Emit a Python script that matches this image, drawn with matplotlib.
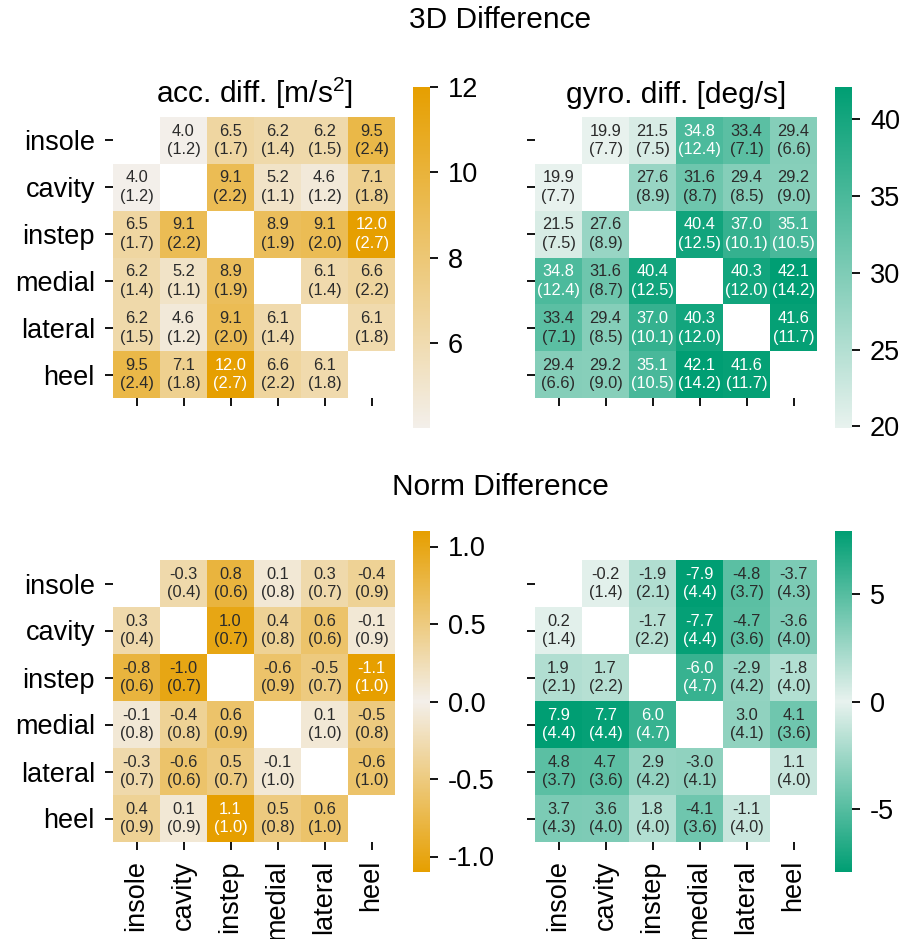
import numpy as np
import matplotlib
matplotlib.use('Agg')
import matplotlib.pyplot as plt
from matplotlib.colors import LinearSegmentedColormap

plt.rcParams['font.family'] = ['Liberation Sans', 'DejaVu Sans']
plt.rcParams['mathtext.default'] = 'regular'

locations = ['insole', 'cavity', 'instep', 'medial', 'lateral', 'heel']
n = np.nan

# 3D difference, mean and std per sensor pair
acc_3d_mean = [[n, 4.0, 6.5, 6.2, 6.2, 9.5],
               [4.0, n, 9.1, 5.2, 4.6, 7.1],
               [6.5, 9.1, n, 8.9, 9.1, 12.0],
               [6.2, 5.2, 8.9, n, 6.1, 6.6],
               [6.2, 4.6, 9.1, 6.1, n, 6.1],
               [9.5, 7.1, 12.0, 6.6, 6.1, n]]
acc_3d_std = [[n, 1.2, 1.7, 1.4, 1.5, 2.4],
              [1.2, n, 2.2, 1.1, 1.2, 1.8],
              [1.7, 2.2, n, 1.9, 2.0, 2.7],
              [1.4, 1.1, 1.9, n, 1.4, 2.2],
              [1.5, 1.2, 2.0, 1.4, n, 1.8],
              [2.4, 1.8, 2.7, 2.2, 1.8, n]]
gyro_3d_mean = [[n, 19.9, 21.5, 34.8, 33.4, 29.4],
                [19.9, n, 27.6, 31.6, 29.4, 29.2],
                [21.5, 27.6, n, 40.4, 37.0, 35.1],
                [34.8, 31.6, 40.4, n, 40.3, 42.1],
                [33.4, 29.4, 37.0, 40.3, n, 41.6],
                [29.4, 29.2, 35.1, 42.1, 41.6, n]]
gyro_3d_std = [[n, 7.7, 7.5, 12.4, 7.1, 6.6],
               [7.7, n, 8.9, 8.7, 8.5, 9.0],
               [7.5, 8.9, n, 12.5, 10.1, 10.5],
               [12.4, 8.7, 12.5, n, 12.0, 14.2],
               [7.1, 8.5, 10.1, 12.0, n, 11.7],
               [6.6, 9.0, 10.5, 14.2, 11.7, n]]

# norm difference, mean and std per sensor pair
acc_norm_mean = [[n, -0.3, 0.8, 0.1, 0.3, -0.4],
                 [0.3, n, 1.0, 0.4, 0.6, -0.1],
                 [-0.8, -1.0, n, -0.6, -0.5, -1.1],
                 [-0.1, -0.4, 0.6, n, 0.1, -0.5],
                 [-0.3, -0.6, 0.5, -0.1, n, -0.6],
                 [0.4, 0.1, 1.1, 0.5, 0.6, n]]
acc_norm_std = [[n, 0.4, 0.6, 0.8, 0.7, 0.9],
                [0.4, n, 0.7, 0.8, 0.6, 0.9],
                [0.6, 0.7, n, 0.9, 0.7, 1.0],
                [0.8, 0.8, 0.9, n, 1.0, 0.8],
                [0.7, 0.6, 0.7, 1.0, n, 1.0],
                [0.9, 0.9, 1.0, 0.8, 1.0, n]]
gyro_norm_mean = [[n, -0.2, -1.9, -7.9, -4.8, -3.7],
                  [0.2, n, -1.7, -7.7, -4.7, -3.6],
                  [1.9, 1.7, n, -6.0, -2.9, -1.8],
                  [7.9, 7.7, 6.0, n, 3.0, 4.1],
                  [4.8, 4.7, 2.9, -3.0, n, 1.1],
                  [3.7, 3.6, 1.8, -4.1, -1.1, n]]
gyro_norm_std = [[n, 1.4, 2.1, 4.4, 3.7, 4.3],
                 [1.4, n, 2.2, 4.4, 3.6, 4.0],
                 [2.1, 2.2, n, 4.7, 4.2, 4.0],
                 [4.4, 4.4, 4.7, n, 4.1, 3.6],
                 [3.7, 3.6, 4.2, 4.1, n, 4.0],
                 [4.3, 4.0, 4.0, 3.6, 4.0, n]]

ORANGE, ORANGE_LIGHT = '#E69F00', '#f3efea'
GREEN, GREEN_LIGHT = '#009E73', '#e8f2ee'

orange_seq = LinearSegmentedColormap.from_list('orange_seq', [ORANGE_LIGHT, ORANGE])
green_seq = LinearSegmentedColormap.from_list('green_seq', [GREEN_LIGHT, GREEN])
orange_div = LinearSegmentedColormap.from_list('orange_div', [ORANGE, ORANGE_LIGHT, ORANGE])
green_div = LinearSegmentedColormap.from_list('green_div', [GREEN, GREEN_LIGHT, GREEN])

W, H = 911, 939
fig = plt.figure(figsize=(W / 100, H / 100), dpi=100)


def px_axes(left, top, right, bottom):
    return fig.add_axes([left / W, 1 - bottom / H, (right - left) / W, (bottom - top) / H])


def luminance(rgb):
    rgb = np.asarray(rgb)
    rgb = np.where(rgb <= .03928, rgb / 12.92, ((rgb + .055) / 1.055) ** 2.4)
    return rgb.dot([.2126, .7152, .0722])


def heatmap(ax, cax, mean, std, cmap, vmin, vmax, cticks, fmt, xlabels, ylabels, title=None):
    vals = np.array(mean, dtype=float)
    mesh = ax.pcolormesh(np.ma.masked_invalid(vals), cmap=cmap, vmin=vmin, vmax=vmax)
    ax.set_xlim(0, 6)
    ax.set_ylim(6, 0)
    for i in range(6):
        for j in range(6):
            if np.isnan(vals[i, j]):
                continue
            rgb = cmap(mesh.norm(vals[i, j]))[:3]
            color = '#2b2b2b' if luminance(rgb) > 0.418 else 'white'
            ax.text(j + 0.5, i + 0.5, f'{mean[i][j]:.1f}\n({std[i][j]:.1f})',
                    ha='center', va='center', fontsize=11.8, color=color, linespacing=1.3)
    ax.set_xticks(np.arange(6) + 0.5)
    ax.set_yticks(np.arange(6) + 0.5)
    ax.set_xticklabels(locations if xlabels else [], rotation=90)
    ax.set_yticklabels(locations if ylabels else [])
    ax.tick_params(length=6, width=1.3, pad=7, labelsize=19.5)
    for s in ax.spines.values():
        s.set_visible(False)
    if title:
        ax.set_title(title, fontsize=21.5, pad=10)

    cb = fig.colorbar(mesh, cax=cax, ticks=cticks, format=fmt)
    cb.outline.set_visible(False)
    cax.tick_params(length=6, width=1.3, pad=7, labelsize=19.5)


heatmap(px_axes(113, 117, 395, 398), px_axes(413, 87, 430, 428),
        acc_3d_mean, acc_3d_std, orange_seq, 4.0, 12.0, [6, 8, 10, 12], '%d',
        False, True, 'acc. diff. [m/s$^2$]')
heatmap(px_axes(535, 117, 817, 398), px_axes(835, 87, 852, 428),
        gyro_3d_mean, gyro_3d_std, green_seq, 19.9, 42.1, [20, 25, 30, 35, 40], '%d',
        False, False, 'gyro. diff. [deg/s]')
heatmap(px_axes(113, 560, 395, 842), px_axes(413, 531, 430, 872),
        acc_norm_mean, acc_norm_std, orange_div, -1.1, 1.1, [-1.0, -0.5, 0.0, 0.5, 1.0], '%.1f',
        True, True)
heatmap(px_axes(535, 560, 817, 842), px_axes(835, 531, 852, 872),
        gyro_norm_mean, gyro_norm_std, green_div, -7.9, 7.9, [-5, 0, 5], '%d',
        True, False)

fig.text(500 / W, 1 - 20 / H, '3D Difference', ha='center', va='center', fontsize=21.5)
fig.text(500 / W, 1 - 487 / H, 'Norm Difference', ha='center', va='center', fontsize=21.5)

fig.savefig('out.png', dpi=100)
